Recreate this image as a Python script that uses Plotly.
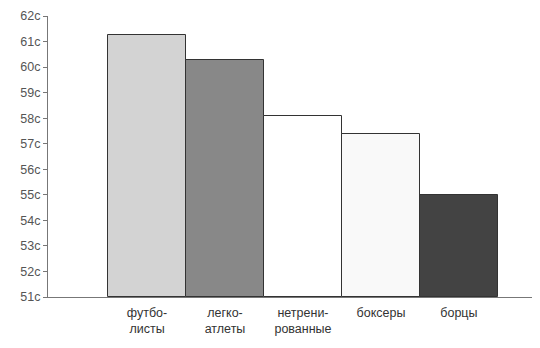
import plotly.graph_objects as go

categories = ["футбо-<br>листы", "легко-<br>атлеты", "нетрени-<br>рованные", "боксеры", "борцы"]
values = [61.25, 60.27, 58.08, 57.38, 55.0]
bar_colors = ["#d3d3d3", "#888888", "#ffffff", "#f9f9f9", "#434343"]
y_ticks = list(range(51, 63))
y_tick_labels = [f"{v}с" for v in y_ticks]

x_idx = list(range(len(categories)))

fig = go.Figure(go.Bar(
    x=x_idx, y=[v - 51 for v in values], base=51,
    marker=dict(color=bar_colors, line=dict(color="#333333", width=1)),
    width=1.0,
))

fig.update_layout(
    width=532, height=340,
    margin=dict(l=40, r=0, t=8, b=51),
    paper_bgcolor="white", plot_bgcolor="white",
    showlegend=False, bargap=0,
    font=dict(family="Liberation Sans, Arial, sans-serif", size=12, color="#444444"),
)
fig.update_xaxes(
    range=[-1.27, 5.04], tickvals=x_idx, ticktext=categories,
    showline=True, linecolor="#777777", linewidth=1, ticks="",
    showgrid=False, zeroline=False, ticklabelstandoff=4,
    tickfont=dict(size=12.5, color="#333333"),
)
fig.update_yaxes(
    range=[51, 62], tickvals=y_ticks, ticktext=y_tick_labels,
    showline=True, linecolor="#777777", linewidth=1,
    ticks="outside", ticklen=4, tickcolor="#777777",
    showgrid=False, zeroline=False,
    tickfont=dict(size=12.5, color="#555555"),
)
fig.write_html("out.html")
